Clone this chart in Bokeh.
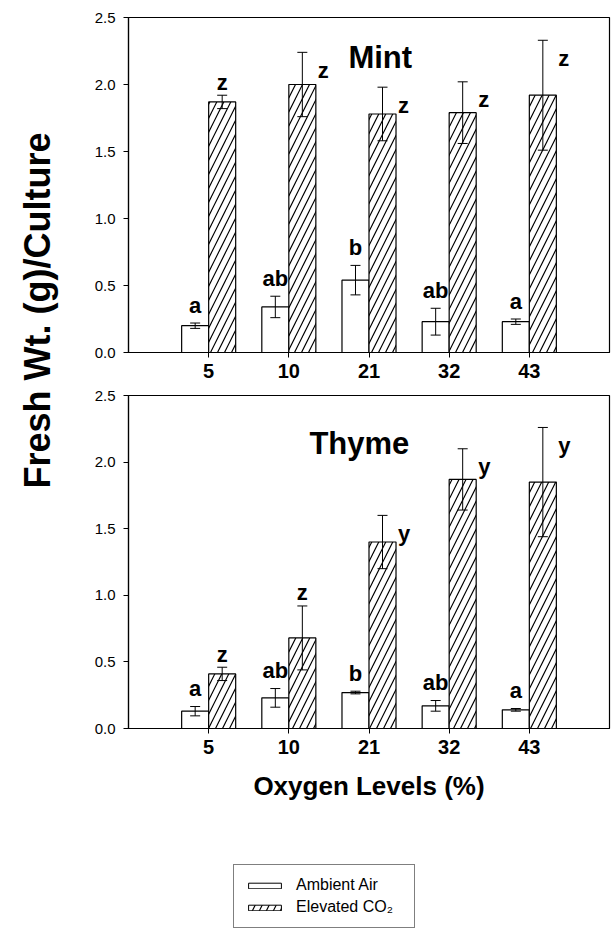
import math
import numpy as np
from bokeh.plotting import figure
from bokeh.models import (ColumnDataSource, Whisker, TeeHead, FixedTicker, Label,
                          Legend, LegendItem, Range1d, PrintfTickFormatter)
from bokeh.layouts import row, column
from bokeh.core.properties import value
from bokeh.embed import file_html
from bokeh.resources import INLINE

# ---------------- data ----------------
oxygen = ["5", "10", "21", "32", "43"]
y_ticks = [0.0, 0.5, 1.0, 1.5, 2.0, 2.5]

mint_ambient = [0.20, 0.34, 0.54, 0.23, 0.23]
mint_ambient_err = [0.02, 0.08, 0.11, 0.10, 0.02]
mint_co2 = [1.87, 2.00, 1.78, 1.79, 1.92]
mint_co2_err = [0.05, 0.24, 0.20, 0.23, 0.41]
mint_ambient_letters = ["a", "ab", "b", "ab", "a"]
mint_co2_letters = ["z", "z", "z", "z", "z"]
mint_co2_letter_side = ["top", "right", "right", "right", "right"]

thyme_ambient = [0.13, 0.23, 0.27, 0.17, 0.14]
thyme_ambient_err = [0.035, 0.07, 0.01, 0.04, 0.01]
thyme_co2 = [0.41, 0.68, 1.40, 1.87, 1.85]
thyme_co2_err = [0.05, 0.24, 0.20, 0.23, 0.41]
thyme_ambient_letters = ["a", "ab", "b", "ab", "a"]
thyme_co2_letters = ["z", "z", "y", "y", "y"]
thyme_co2_letter_side = ["top", "top", "right", "right", "right"]

series_names = ["Ambient Air", "Elevated CO\u2082"]

FONT = "Liberation Sans"
BAR_W = 0.337
HATCH = dict(hatch_pattern="/", hatch_scale=14, hatch_weight=1.2, hatch_color="black")


def panel(amb, amb_err, co2, co2_err, amb_lab, co2_lab, co2_side,
          title, title_xy, height, b_top, b_bottom, xlabel=None):
    idx = list(range(len(oxygen)))
    p = figure(width=551, height=height, x_range=Range1d(-1, 5), y_range=Range1d(0, 2.5),
               output_backend="svg", toolbar_location=None,
               min_border_left=68, min_border_right=2,
               min_border_top=b_top, min_border_bottom=b_bottom)
    p.background_fill_color = "white"
    p.border_fill_color = "white"
    p.grid.visible = False
    p.outline_line_color = "black"
    p.outline_line_width = 1.2
    p.outline_line_alpha = 1.0

    xa = p.xaxis[0]
    xa.ticker = FixedTicker(ticks=idx)
    xa.major_label_overrides = {i: o for i, o in zip(idx, oxygen)}
    xa.major_label_text_font = FONT
    xa.major_label_text_font_style = "bold"
    xa.major_label_text_font_size = "20px"
    xa.major_label_text_color = "black"
    xa.major_label_standoff = 6
    xa.major_tick_in = 0
    xa.major_tick_out = 5
    xa.minor_tick_line_color = None
    xa.axis_line_color = "black"
    xa.axis_line_width = 1.2
    if xlabel:
        xa.axis_label = xlabel
        xa.axis_label_text_font = FONT
        xa.axis_label_text_font_style = "bold"
        xa.axis_label_text_font_size = "26px"
        xa.axis_label_text_color = "black"
        xa.axis_label_standoff = 14

    ya = p.yaxis[0]
    ya.ticker = FixedTicker(ticks=y_ticks)
    ya.formatter = PrintfTickFormatter(format="%.1f")
    ya.major_label_text_font = FONT
    ya.major_label_text_font_size = "15px"
    ya.major_label_text_color = "black"
    ya.major_label_standoff = 8
    ya.major_tick_in = 0
    ya.major_tick_out = 5
    ya.minor_tick_line_color = None
    ya.axis_line_color = "black"
    ya.axis_line_width = 1.2

    amb_x = [i - BAR_W / 2 for i in idx]
    co2_x = [i + BAR_W / 2 for i in idx]
    src_a = ColumnDataSource(dict(x=amb_x, top=amb,
                                  lo=[v - e for v, e in zip(amb, amb_err)],
                                  hi=[v + e for v, e in zip(amb, amb_err)]))
    src_c = ColumnDataSource(dict(x=co2_x, top=co2,
                                  lo=[v - e for v, e in zip(co2, co2_err)],
                                  hi=[v + e for v, e in zip(co2, co2_err)]))
    p.vbar(x="x", top="top", bottom=0, width=BAR_W, source=src_a,
           fill_color="white", line_color="black", line_width=1.2)
    p.vbar(x="x", top="top", bottom=0, width=BAR_W, source=src_c,
           fill_color="white", line_color="black", line_width=1.2, **HATCH)

    for src in (src_a, src_c):
        w = Whisker(base="x", lower="lo", upper="hi", source=src, level="annotation",
                    line_color="black", line_width=1,
                    upper_head=TeeHead(size=10, line_color="black", line_width=1),
                    lower_head=TeeHead(size=10, line_color="black", line_width=1))
        p.add_layout(w)

    txt = dict(text_font=value(FONT), text_font_style="bold", text_font_size="22px",
               text_color="black", text_baseline="alphabetic")
    # ambient letters: above error bar, centred on bar
    p.text(x=amb_x, y=src_a.data["hi"], text=amb_lab, text_align="center",
           y_offset=-18, **txt)
    # elevated letters
    top_i = [i for i, s in enumerate(co2_side) if s == "top"]
    right_i = [i for i, s in enumerate(co2_side) if s == "right"]
    if top_i:
        p.text(x=[co2_x[i] for i in top_i], y=[src_c.data["hi"][i] for i in top_i],
               text=[co2_lab[i] for i in top_i], text_align="center", y_offset=-13, **txt)
    if right_i:
        p.text(x=[co2_x[i] + BAR_W / 2 for i in right_i],
               y=[src_c.data["hi"][i] for i in right_i],
               text=[co2_lab[i] for i in right_i], text_align="left",
               x_offset=2, y_offset=18, **txt)

    p.add_layout(Label(x=title_xy[0], y=title_xy[1], text=title, text_font=FONT,
                       text_font_style="bold", text_font_size="31px", text_color="black",
                       text_align="center", text_baseline="middle"))
    return p


top = panel(mint_ambient, mint_ambient_err, mint_co2, mint_co2_err,
            mint_ambient_letters, mint_co2_letters, mint_co2_letter_side,
            "Mint", (2.14, 2.2), height=386, b_top=17, b_bottom=34)
bottom = panel(thyme_ambient, thyme_ambient_err, thyme_co2, thyme_co2_err,
               thyme_ambient_letters, thyme_co2_letters, thyme_co2_letter_side,
               "Thyme", (1.88, 2.14), height=429, b_top=9, b_bottom=87,
               xlabel="Oxygen Levels (%)")

# shared y-axis label
lab = figure(width=60, height=930, x_range=Range1d(0, 60), y_range=Range1d(0, 930),
             output_backend="svg", toolbar_location=None, min_border=0,
             min_border_left=0, min_border_right=0, min_border_top=0, min_border_bottom=0,
             x_axis_location=None, y_axis_location=None)
lab.grid.visible = False
lab.outline_line_color = None
lab.text(x=[37], y=[620], text=["Fresh Wt. (g)/Culture"], angle=math.pi / 2,
         text_font=value(FONT), text_font_style="bold", text_font_size="36px",
         text_color="black", text_align="center", text_baseline="middle")

# legend panel (frame aligned with the chart frames above)
leg = figure(width=551, height=115, x_range=Range1d(0, 1), y_range=Range1d(0, 1),
             output_backend="svg", toolbar_location=None, min_border=0,
             min_border_left=68, min_border_right=2, min_border_top=0, min_border_bottom=0,
             x_axis_location=None, y_axis_location=None)
leg.grid.visible = False
leg.outline_line_color = None
# placeholder bars without drawable data, only to supply legend swatches
swatch_src = ColumnDataSource(dict(x=np.array([np.nan]), top=np.array([np.nan])))
r1 = leg.vbar(x="x", top="top", width=0.1, source=swatch_src, fill_color="white",
              line_color="black", line_width=1)
r2 = leg.vbar(x="x", top="top", width=0.1, source=swatch_src, fill_color="white",
              line_color="black", line_width=1, **HATCH)
legend = Legend(items=[LegendItem(label=series_names[0], renderers=[r1]),
                       LegendItem(label=series_names[1], renderers=[r2])],
                location=(105, 2), padding=10, spacing=2, label_height=20,
                glyph_width=41, glyph_height=7, label_standoff=11, label_width=108,
                label_text_font=FONT, label_text_font_size="16px",
                label_text_color="black", border_line_color="black",
                border_line_width=1, background_fill_color="white",
                background_fill_alpha=1.0, margin=0)
leg.add_layout(legend)

layout = row(lab, column(top, bottom, leg))

with open("out.html", "w") as f:
    f.write(file_html(layout, INLINE))
